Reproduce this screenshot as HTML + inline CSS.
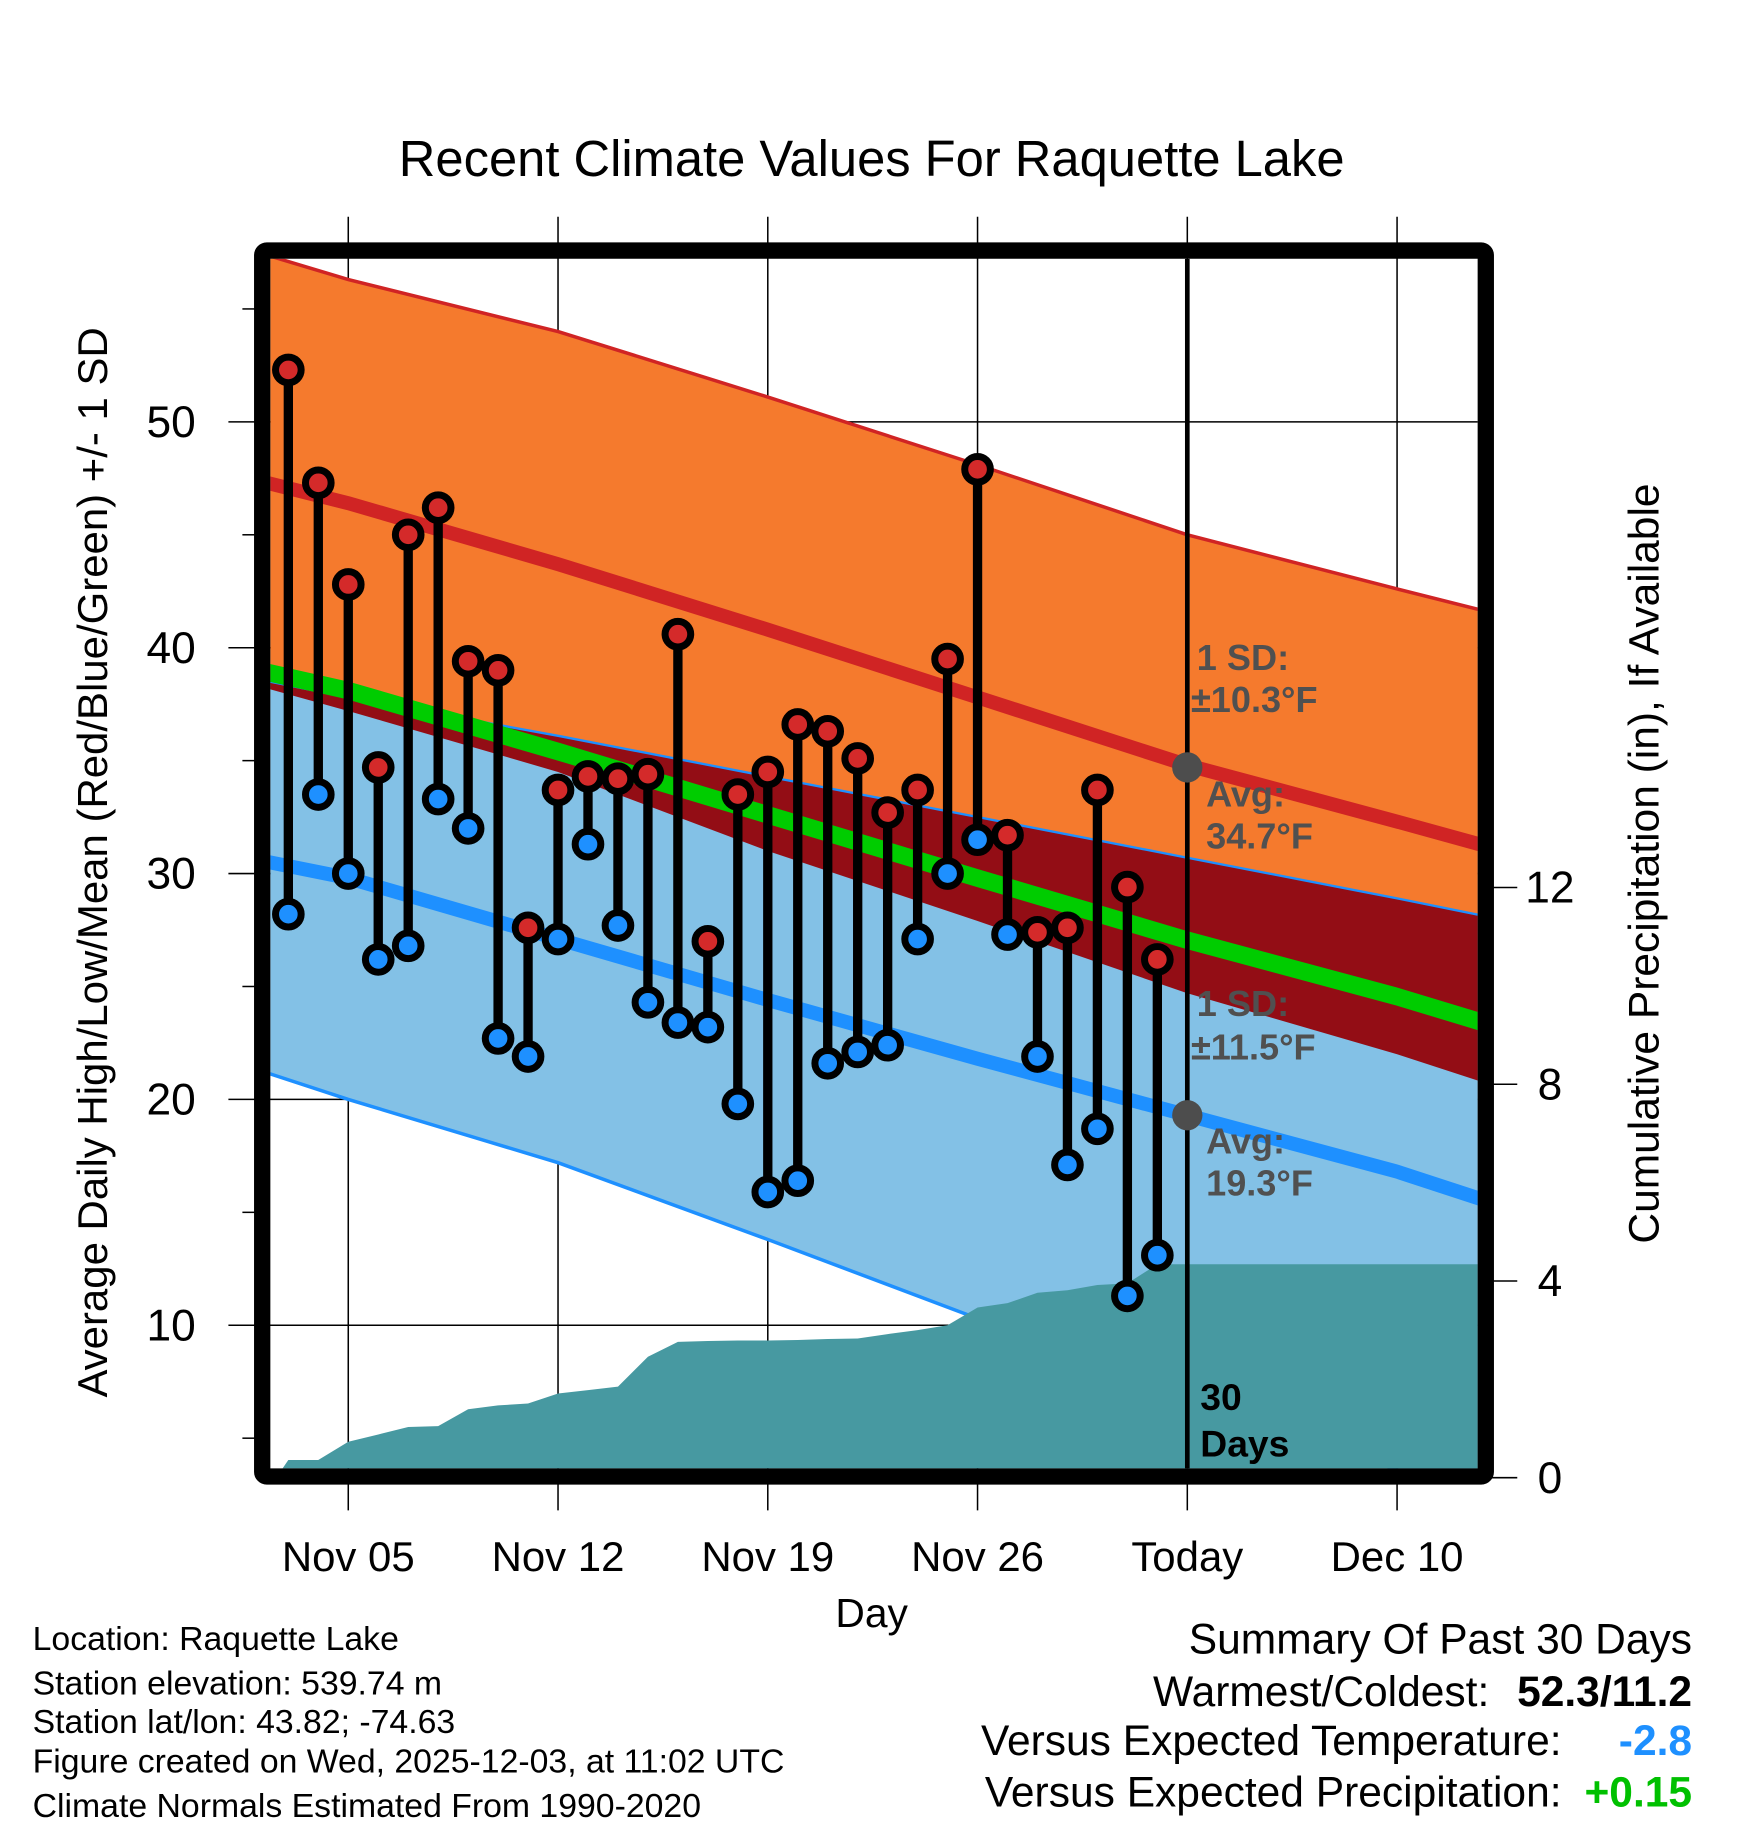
<!DOCTYPE html>
<html><head><meta charset="utf-8"><style>
html,body{margin:0;padding:0;background:#fff;}
svg{display:block;font-family:"Liberation Sans",Arial,sans-serif;}
</style></head><body>
<svg id="chart" width="1748" height="1828" viewBox="0 0 1500 1568.6" preserveAspectRatio="none" xmlns="http://www.w3.org/2000/svg">
<defs><clipPath id="plotclip"><rect x="232" y="222" width="1036" height="1038"/></clipPath></defs>
<text x="748" y="151" font-size="43.5" text-anchor="middle">Recent Climate Values For Raquette Lake</text>
<g id="grid"></g>
<g id="plot" clip-path="url(#plotclip)"></g>
<g id="marks"></g>
<rect x="225" y="215" width="1050" height="1052" fill="none" stroke="#000" stroke-width="14" rx="4"/>
<g id="axes"></g>
<text transform="translate(92,740) rotate(-90)" font-size="36" text-anchor="middle">Average Daily High/Low/Mean (Red/Blue/Green) +/- 1 SD</text>
<text transform="translate(1423,741) rotate(-90)" font-size="36.5" text-anchor="middle">Cumulative Precipitation (in), If Available</text>
<text x="748" y="1396" font-size="35" text-anchor="middle">Day</text>
<g font-size="29">
<text x="28" y="1416">Location: Raquette Lake</text>
<text x="28" y="1454">Station elevation: 539.74 m</text>
<text x="28" y="1487">Station lat/lon: 43.82; -74.63</text>
<text x="28" y="1521">Figure created on Wed, 2025-12-03, at 11:02 UTC</text>
<text x="28" y="1559">Climate Normals Estimated From 1990-2020</text>
</g>
<g font-size="36.5">
<text x="1452" y="1419" text-anchor="end">Summary Of Past 30 Days</text>
<text x="1278" y="1464" text-anchor="end">Warmest/Coldest:</text>
<text x="1452" y="1464" text-anchor="end" font-weight="bold">52.3/11.2</text>
<text x="1340" y="1506" text-anchor="end">Versus Expected Temperature:</text>
<text x="1452" y="1506" text-anchor="end" font-weight="bold" fill="#1e90ff">-2.8</text>
<text x="1340" y="1550" text-anchor="end">Versus Expected Precipitation:</text>
<text x="1452" y="1550" text-anchor="end" font-weight="bold" fill="#00c000">+0.15</text>
</g>
</svg>
<script>
const obsDays = [2,3,4,5,6,7,8,9,10,11,12,13,14,15,16,17,18,19,20,21,22,23,24,25,26,27,28,29,30,31];
const highs = [52.3,47.3,42.8,34.7,45.0,46.2,39.4,39.0,27.6,33.7,34.3,34.2,34.4,40.6,27.0,33.5,34.5,36.6,36.3,35.1,32.7,33.7,39.5,47.9,31.7,27.4,27.6,33.7,29.4,26.2];
const lows = [28.2,33.5,30.0,26.2,26.8,33.3,32.0,22.7,21.9,27.1,31.3,27.7,24.3,23.4,23.2,19.8,15.9,16.4,21.6,22.1,22.4,27.1,30.0,31.5,27.3,21.9,17.1,18.7,11.3,13.1];
const precipDays = [1.6,2,3,4,5,6,7,8,9,10,11,12,13,14,15,16,17,18,19,20,21,22,23,24,25,26,27,28,29,30,31,43];
const precipCum = [0,0.36,0.36,0.73,0.88,1.03,1.05,1.39,1.47,1.51,1.71,1.78,1.85,2.46,2.76,2.78,2.79,2.79,2.80,2.82,2.83,2.92,3.00,3.10,3.46,3.55,3.76,3.81,3.92,3.95,4.34,4.34];
const normDays = [1,4,11,18,25,32,39,42];
const highAvg = [47.4,46.4,43.7,40.8,37.8,34.8,32.3,31.2];
const hiUpper = [57.5,56.3,54.0,51.1,48.1,45.0,42.6,41.6];
const hiLower = [38.3,37.2,34.5,31.0,27.9,24.7,22.0,20.7];
const lowAvg = [30.6,29.8,27.1,24.4,21.8,19.3,16.8,15.5];
const loUpper = [38.6,37.8,36.1,34.3,32.5,30.7,28.9,28.1];
const loLower = [21.3,20.0,17.2,13.8,10.3,6.8,3.6,2.3];
const xTickDays = [4,11,18,25,32,39];
const xTickLabels = ["Nov 05","Nov 12","Nov 19","Nov 26","Today","Dec 10"];
const yTicks = [10,20,30,40,50];
const yMinor = [5,15,25,35,45,55];
const y2Ticks = [0,4,8,12];
const todayDay = 32;

const NS = "http://www.w3.org/2000/svg";
const X = d => 196 + (180/7)*d;
const Y = v => 362 + (50 - v)*19.38;
const Y2 = p => 1268 - p*42.2;
function mk(tag, attrs, parent){const e=document.createElementNS(NS,tag);for(const k in attrs)e.setAttribute(k,attrs[k]);parent.appendChild(e);return e;}
const grid=document.getElementById('grid'), plot=document.getElementById('plot'), marks=document.getElementById('marks'), axes=document.getElementById('axes');
function pts(days, vals){return days.map((d,i)=>X(d).toFixed(1)+','+Y(vals[i]).toFixed(1));}
function band(upper, lower, fill, name){
  const p = pts(normDays, upper).concat(pts(normDays, lower).reverse());
  const e = mk('polygon',{points:p.join(' '),fill:fill},plot);
  
  
}
function line(vals, color, w, name){
  const e = mk('polyline',{points:pts(normDays, vals).join(' '),fill:'none',stroke:color,'stroke-width':w},plot);
  
  
}
band(hiUpper, hiLower, '#f57a2d', 'high-sd-band');
band(loUpper, loLower, '#83c1e6', 'low-sd-band');
band(loUpper, hiLower, '#930d15', 'overlap-band');
line(hiUpper, '#d02424', 3, 'high-upper-edge');
line(loUpper, '#1e90ff', 2, 'low-upper-edge');
line(loLower, '#1e90ff', 3, 'low-lower-edge');
xTickDays.forEach((d,i)=>{
  const g = mk('line',{x1:X(d),x2:X(d),y1:186,y2:1296,stroke:'#000','stroke-width':1.3},grid);
  
  
  const t = mk('text',{x:X(d),y:1348,'font-size':36,'text-anchor':'middle'},axes);
  t.textContent = xTickLabels[i];
  
  
});
yTicks.forEach(v=>{
  const g = mk('line',{x1:196,x2:1268,y1:Y(v),y2:Y(v),stroke:'#000','stroke-width':1.3},grid);
  
  
  const t = mk('text',{x:168,y:Y(v)+13,'font-size':38,'text-anchor':'end'},axes);
  t.textContent = v;
  
  
});
yMinor.forEach(v=>{
  const g = mk('line',{x1:208,x2:220,y1:Y(v),y2:Y(v),stroke:'#000','stroke-width':1.3},grid);
  
  
});
y2Ticks.forEach(p=>{
  const g = mk('line',{x1:1280,x2:1302,y1:Y2(p),y2:Y2(p),stroke:'#000','stroke-width':1.3},axes);
  
  
  const t = mk('text',{x:1330,y:Y2(p)+13,'font-size':38,'text-anchor':'middle'},axes);
  t.textContent = p;
  
  
});
const meanAvg = highAvg.map((h,i)=>(h+lowAvg[i])/2);
line(meanAvg, '#00cc00', 15, 'mean-line');
line(highAvg, '#d02424', 12, 'avg-high-line');
line(lowAvg, '#1e90ff', 12, 'avg-low-line');
{
  const p = precipDays.map((d,i)=>X(d).toFixed(1)+','+Y2(precipCum[i]).toFixed(1));
  p.push(X(43).toFixed(1)+',1262', X(1.6).toFixed(1)+',1262');
  const e = mk('polygon',{points:p.join(' '),fill:'#4799a1'},plot);
  
  
}
{
  const e = mk('line',{x1:X(todayDay),x2:X(todayDay),y1:222,y2:1260,stroke:'#000','stroke-width':4},plot);
  
  
}
const ann = [["1 SD:",1027,575],["±10.3°F",1022,611],["Avg:",1035,692],["34.7°F",1035,728],["1 SD:",1027,872],["±11.5°F",1022,909],["Avg:",1035,990],["19.3°F",1035,1026]];
ann.forEach(a=>{
  const t = mk('text',{x:a[1],y:a[2],'font-size':31,'font-weight':'bold',fill:'#505050'},plot);
  t.textContent = a[0];
  
  
});
[[34.7,'today-high-normal-dot'],[19.3,'today-low-normal-dot']].forEach(a=>{
  const c = mk('circle',{cx:X(todayDay),cy:Y(a[0]),r:13,fill:'#4d4d4d'},plot);
  
  
});
[["30",1210],["Days",1250]].forEach(a=>{
  const t = mk('text',{x:1030,y:a[1],'font-size':32,'font-weight':'bold',fill:'#000'},plot);
  t.textContent = a[0];
  
  
});
obsDays.forEach((d,i)=>{
  const x = X(d);
  const s = mk('line',{x1:x,x2:x,y1:Y(highs[i]),y2:Y(lows[i]),stroke:'#000','stroke-width':8},marks);
  
  
  const h = mk('circle',{cx:x,cy:Y(highs[i]),r:11,fill:'#d42a2a',stroke:'#000','stroke-width':6},marks);
  
  
  const l = mk('circle',{cx:x,cy:Y(lows[i]),r:11,fill:'#1e90ff',stroke:'#000','stroke-width':6},marks);
  
  
});
</script>
</body></html>
